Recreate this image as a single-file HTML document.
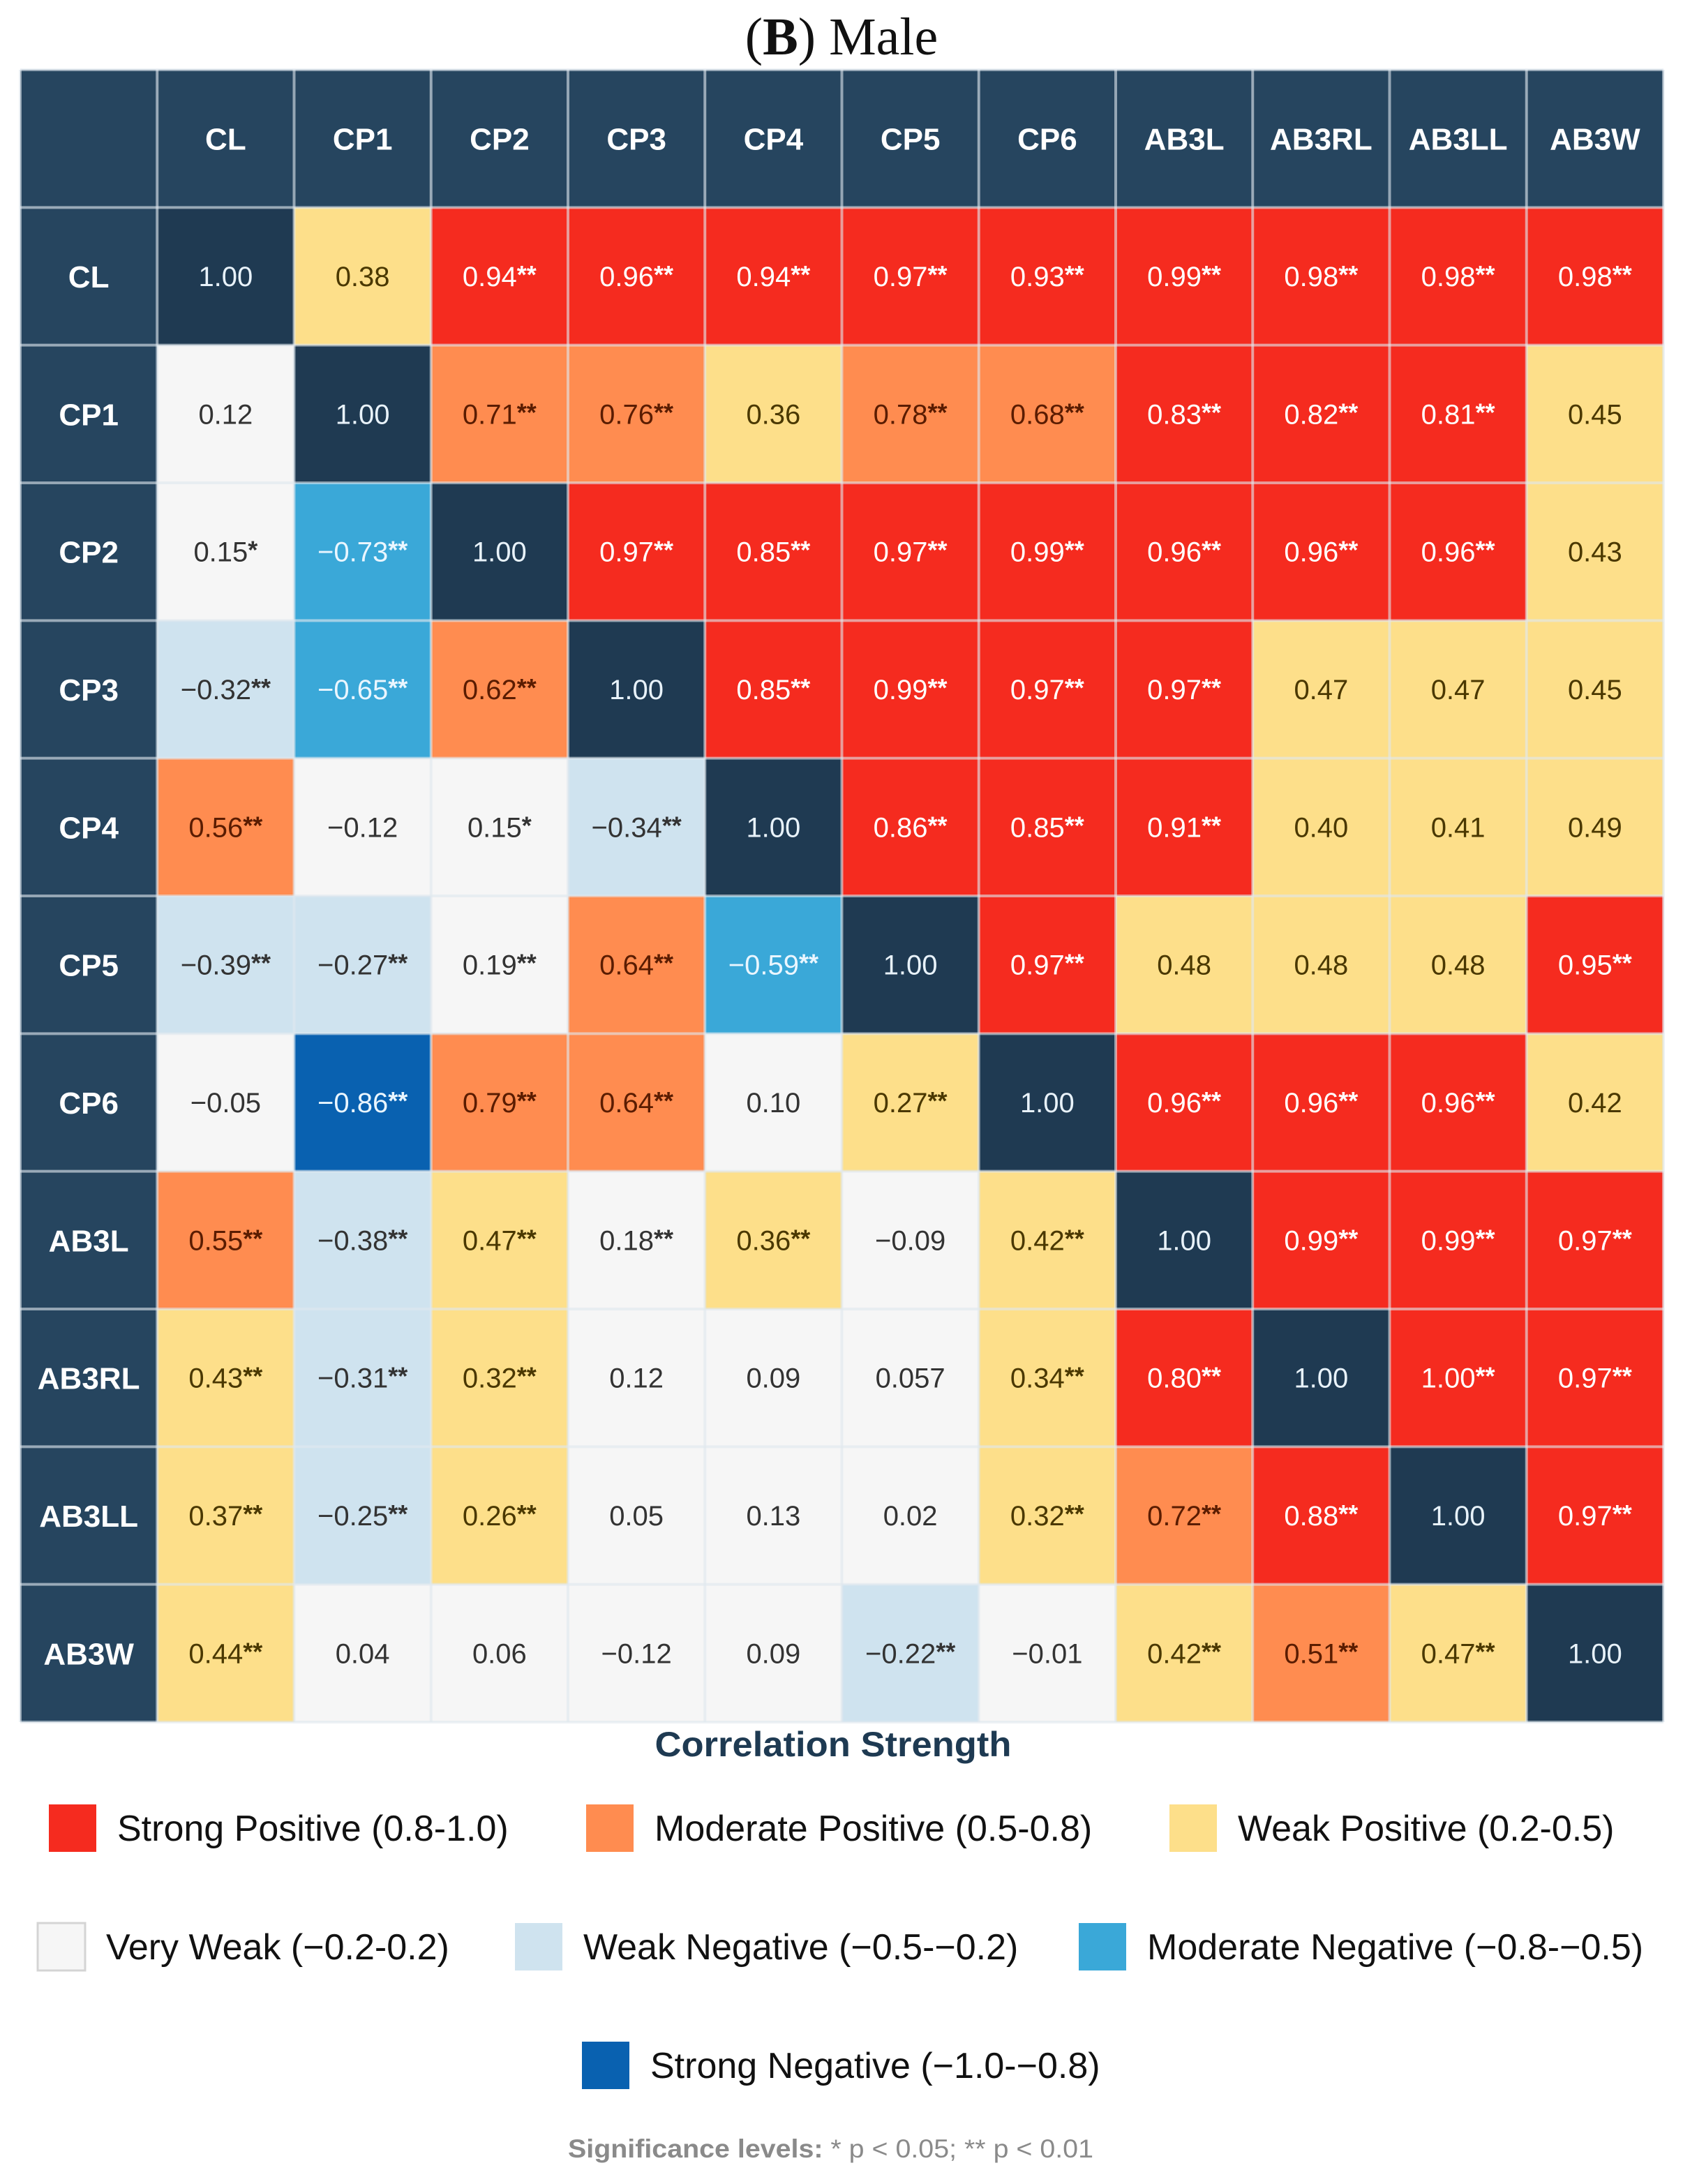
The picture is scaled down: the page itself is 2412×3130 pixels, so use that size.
<!DOCTYPE html>
<html><head><meta charset="utf-8">
<style>
html,body{margin:0;padding:0;background:#fff;}
svg{display:block;}
text{font-family:"Liberation Sans",sans-serif;}
</style></head>
<body>
<svg id="chart" width="2412" height="3130" viewBox="0 0 2412 3130" xmlns="http://www.w3.org/2000/svg">
<text x="1206" y="78" text-anchor="middle" style="font-family:'Liberation Serif',serif;font-size:76px;fill:#111">(<tspan font-weight="bold">B</tspan>) Male</text>
<g id="grid"></g>
<text x="1194" y="2517" text-anchor="middle" textLength="511" lengthAdjust="spacingAndGlyphs" style="font-size:50px;font-weight:bold;fill:#1e3a52">Correlation Strength</text>
<g id="legend"></g>
<text x="814" y="3092" textLength="753" lengthAdjust="spacingAndGlyphs" style="font-size:37px;fill:#8a8a8a"><tspan font-weight="bold">Significance levels:</tspan> * p &lt; 0.05; ** p &lt; 0.01</text>
</svg>
<script>
const labels = ["CL","CP1","CP2","CP3","CP4","CP5","CP6","AB3L","AB3RL","AB3LL","AB3W"];
const rowCL    = [1.00,0.38,0.94,0.96,0.94,0.97,0.93,0.99,0.98,0.98,0.98];
const rowCP1   = [0.12,1.00,0.71,0.76,0.36,0.78,0.68,0.83,0.82,0.81,0.45];
const rowCP2   = [0.15,-0.73,1.00,0.97,0.85,0.97,0.99,0.96,0.96,0.96,0.43];
const rowCP3   = [-0.32,-0.65,0.62,1.00,0.85,0.99,0.97,0.97,0.47,0.47,0.45];
const rowCP4   = [0.56,-0.12,0.15,-0.34,1.00,0.86,0.85,0.91,0.40,0.41,0.49];
const rowCP5   = [-0.39,-0.27,0.19,0.64,-0.59,1.00,0.97,0.48,0.48,0.48,0.95];
const rowCP6   = [-0.05,-0.86,0.79,0.64,0.10,0.27,1.00,0.96,0.96,0.96,0.42];
const rowAB3L  = [0.55,-0.38,0.47,0.18,0.36,-0.09,0.42,1.00,0.99,0.99,0.97];
const rowAB3RL = [0.43,-0.31,0.32,0.12,0.09,0.057,0.34,0.80,1.00,1.00,0.97];
const rowAB3LL = [0.37,-0.25,0.26,0.05,0.13,0.02,0.32,0.72,0.88,1.00,0.97];
const rowAB3W  = [0.44,0.04,0.06,-0.12,0.09,-0.22,-0.01,0.42,0.51,0.47,1.00];
const values = [rowCL,rowCP1,rowCP2,rowCP3,rowCP4,rowCP5,rowCP6,rowAB3L,rowAB3RL,rowAB3LL,rowAB3W];
const sigCL    = [0,0,2,2,2,2,2,2,2,2,2];
const sigCP1   = [0,0,2,2,0,2,2,2,2,2,0];
const sigCP2   = [1,2,0,2,2,2,2,2,2,2,0];
const sigCP3   = [2,2,2,0,2,2,2,2,0,0,0];
const sigCP4   = [2,0,1,2,0,2,2,2,0,0,0];
const sigCP5   = [2,2,2,2,2,0,2,0,0,0,2];
const sigCP6   = [0,2,2,2,0,2,0,2,2,2,0];
const sigAB3L  = [2,2,2,2,2,0,2,0,2,2,2];
const sigAB3RL = [2,2,2,0,0,0,2,2,0,2,2];
const sigAB3LL = [2,2,2,0,0,0,2,2,2,0,2];
const sigAB3W  = [2,0,0,0,0,2,0,2,2,2,0];
const sig = [sigCL,sigCP1,sigCP2,sigCP3,sigCP4,sigCP5,sigCP6,sigAB3L,sigAB3RL,sigAB3LL,sigAB3W];
const legendLabels = ["Strong Positive (0.8-1.0)","Moderate Positive (0.5-0.8)","Weak Positive (0.2-0.5)","Very Weak (\u22120.2-0.2)","Weak Negative (\u22120.5-\u22120.2)","Moderate Negative (\u22120.8-\u22120.5)","Strong Negative (\u22121.0-\u22120.8)"];

const NS = "http://www.w3.org/2000/svg";
const X0 = 29, Y0 = 100, CW = (2384 - 29) / 12, CH = (2468 - 100) / 12;
const HEAD = "#26455f", DIAG = "#1f3a52";
const COLORS = ["#f52b1f","#ff8c50","#fddf8a","#f6f6f6","#cfe3ef","#3aa8d8","#0961b0"];
const TEXTC  = ["#ffffff","#5a1c00","#4a3800","#333333","#333333","#eaf6ff","#eaf6ff"];
function xPos(c){ return X0 + c * CW; }
function yPos(r){ return Y0 + r * CH; }
function cat(v){
  if (v >= 0.8) return 0;
  if (v >= 0.5) return 1;
  if (v >= 0.2) return 2;
  if (v > -0.2) return 3;
  if (v > -0.5) return 4;
  if (v > -0.8) return 5;
  return 6;
}
function fmt(v){
  const d = Math.abs(v*100 - Math.round(v*100)) > 1e-6 ? 3 : 2;
  const s = Math.abs(v).toFixed(d);
  return (v < 0 ? "\u2212" : "") + s;
}
function mk(tag, attrs, parent){
  const e = document.createElementNS(NS, tag);
  for (const k in attrs) e.setAttribute(k, attrs[k]);
  parent.appendChild(e);
  return e;
}
const grid = document.getElementById("grid");
const corner = mk("rect", {x:xPos(0), y:yPos(0), width:CW, height:CH, fill:HEAD}, grid);


labels.forEach((lab, i) => {
  const r = mk("rect", {x:xPos(i+1), y:yPos(0), width:CW, height:CH, fill:HEAD}, grid);
  
  
  const t = mk("text", {x:xPos(i+1)+CW/2, y:yPos(0)+CH/2+16, "text-anchor":"middle", "font-size":44, "font-weight":"bold", fill:"#ffffff"}, grid);
  t.textContent = lab;
  
  
  const r2 = mk("rect", {x:xPos(0), y:yPos(i+1), width:CW, height:CH, fill:HEAD}, grid);
  
  
  const t2 = mk("text", {x:xPos(0)+CW/2, y:yPos(i+1)+CH/2+16, "text-anchor":"middle", "font-size":44, "font-weight":"bold", fill:"#ffffff"}, grid);
  t2.textContent = lab;
  
  
});
values.forEach((row, r) => {
  row.forEach((v, c) => {
    const diag = r === c;
    const k = cat(v);
    const rect = mk("rect", {x:xPos(c+1), y:yPos(r+1), width:CW, height:CH, fill: diag ? DIAG : COLORS[k]}, grid);
    
    
    const t = mk("text", {x:xPos(c+1)+CW/2, y:yPos(r+1)+CH/2+14, "text-anchor":"middle", "font-size":40, fill: diag ? "#e8f2fa" : TEXTC[k]}, grid);
    t.textContent = fmt(v);
    if (sig[r][c] > 0) {
      const s = mk("tspan", {"font-size":36, "font-weight":"bold", dy:-4}, t);
      s.textContent = "*".repeat(sig[r][c]);
    }
    
    
  });
});
for (let i = 0; i <= 12; i++) {
  const lv = mk("line", {x1:xPos(i), y1:Y0, x2:xPos(i), y2:yPos(12), stroke:"#dfe7ee", "stroke-width":4, "stroke-opacity":0.6}, grid);
  
  
  const lh = mk("line", {x1:X0, y1:yPos(i), x2:xPos(12), y2:yPos(i), stroke:"#dfe7ee", "stroke-width":4, "stroke-opacity":0.6}, grid);
  
  
}
const legend = document.getElementById("legend");
const legPos = [[70,2620],[840,2620],[1676,2620],[54,2790],[738,2790],[1546,2790],[834,2960]];
legendLabels.forEach((lab, i) => {
  const [lx, ly] = legPos[i];
  const sw = mk("rect", {x:lx, y:ly-34, width:68, height:68, fill:COLORS[i], stroke: i===3 ? "#d4d4d4" : "none", "stroke-width":3}, legend);
  
  
  const t = mk("text", {x:lx+98, y:ly+18, "font-size":52, fill:"#111111"}, legend);
  t.textContent = lab;
  
  
});
</script>
</body></html>
